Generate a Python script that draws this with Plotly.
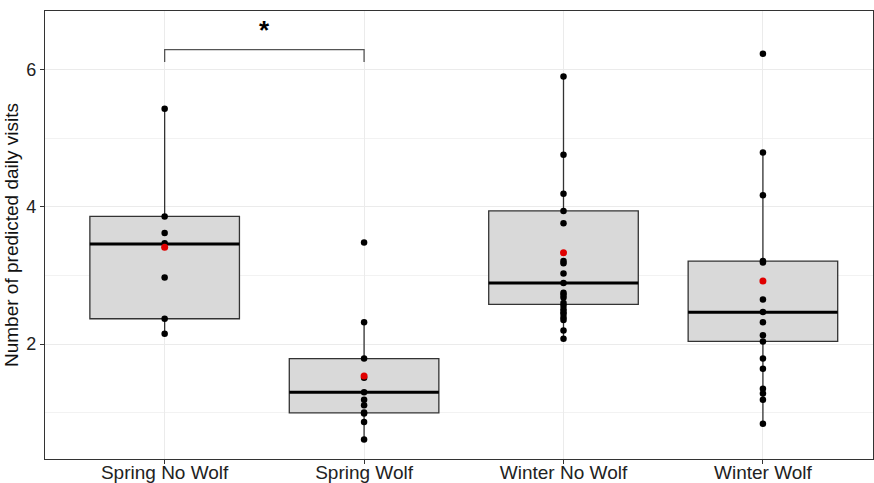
import plotly.graph_objects as go

categories = ["Spring No Wolf", "Spring Wolf", "Winter No Wolf", "Winter Wolf"]
positions = [1, 2, 3, 4]

spring_no_wolf = [5.43, 3.86, 3.62, 3.47, 2.97, 2.37, 2.15]
spring_wolf = [3.48, 2.32, 1.79, 1.51, 1.30, 1.19, 1.11, 1.005, 0.99, 0.865, 0.61]
winter_no_wolf = [5.90, 4.76, 4.19, 3.94, 3.76, 3.21, 3.18, 3.03, 2.89, 2.75, 2.72,
                  2.68, 2.60, 2.56, 2.51, 2.47, 2.44, 2.39, 2.35, 2.20, 2.08]
winter_wolf = [6.23, 4.79, 4.17, 3.21, 3.19, 2.65, 2.47, 2.32, 2.13, 2.04, 1.79,
               1.64, 1.35, 1.28, 1.19, 0.84]

q1 = [2.37, 1.00, 2.58, 2.04]
medians = [3.46, 1.30, 2.89, 2.465]
q3 = [3.86, 1.79, 3.94, 3.21]
lower_fence = [2.15, 0.61, 2.08, 0.84]
upper_fence = [5.43, 2.32, 5.90, 4.79]
means = [3.41, 1.535, 3.33, 2.92]

y_ticks = [2, 4, 6]
minor_ticks = [1, 3, 5]
signif_pair = [1, 2]
signif_label = "*"
bracket_y = 6.29
bracket_drop = 0.18

box_width = 0.75
groups = [spring_no_wolf, spring_wolf, winter_no_wolf, winter_wolf]

fig = go.Figure()

fig.add_trace(go.Box(
    x=positions, q1=q1, median=medians, q3=q3,
    lowerfence=lower_fence, upperfence=upper_fence,
    width=box_width, whiskerwidth=0, boxpoints=False,
    fillcolor="#D9D9D9", line=dict(color="#333333", width=1.3),
    showlegend=False, hoverinfo="skip",
))

# thick median lines
mx, my = [], []
for p, m in zip(positions, medians):
    mx += [p - box_width / 2, p + box_width / 2, None]
    my += [m, m, None]
fig.add_trace(go.Scatter(x=mx, y=my, mode="lines",
                         line=dict(color="black", width=3),
                         showlegend=False, hoverinfo="skip"))

# raw points
px, py = [], []
for p, vals in zip(positions, groups):
    px += [p] * len(vals)
    py += vals
fig.add_trace(go.Scatter(x=px, y=py, mode="markers",
                         marker=dict(color="black", size=6.5),
                         showlegend=False))

# means
fig.add_trace(go.Scatter(x=positions, y=means, mode="markers",
                         marker=dict(color="#E00000", size=7),
                         showlegend=False))

# significance bracket
a, b = signif_pair
fig.add_trace(go.Scatter(
    x=[a, a, b, b],
    y=[bracket_y - bracket_drop, bracket_y, bracket_y, bracket_y - bracket_drop],
    mode="lines", line=dict(color="#555555", width=1.3),
    showlegend=False, hoverinfo="skip"))
fig.add_annotation(x=(a + b) / 2, y=bracket_y, text="<b>" + signif_label + "</b>",
                   showarrow=False, yanchor="bottom", yshift=3,
                   font=dict(size=26, color="black", family="Liberation Sans, Arial"))

fig.update_layout(
    width=874, height=483,
    margin=dict(l=45, r=1, t=11, b=24, autoexpand=False),
    paper_bgcolor="white", plot_bgcolor="white",
    font=dict(family="Liberation Sans, Arial, sans-serif", color="#222222"),
)
fig.update_xaxes(
    automargin=False,
    range=[0.4, 4.552], tickmode="array", tickvals=positions, ticktext=categories,
    showgrid=True, gridcolor="#EBEBEB", gridwidth=1,
    showline=True, linecolor="#333333", linewidth=1.2, mirror=True,
    ticks="outside", ticklen=4, tickcolor="#333333", ticklabelstandoff=-8,
    tickfont=dict(size=19, color="#222222"), zeroline=False,
)
fig.update_yaxes(
    automargin=False,
    range=[0.327, 6.853], tickmode="array", tickvals=y_ticks,
    showgrid=True, gridcolor="#EBEBEB", gridwidth=1,
    minor=dict(tickmode="array", tickvals=minor_ticks, showgrid=True,
               gridcolor="#F2F2F2", gridwidth=1, ticks=""),
    showline=True, linecolor="#333333", linewidth=1.2, mirror=True,
    ticks="outside", ticklen=4, tickcolor="#333333",
    tickfont=dict(size=18, color="#222222"), zeroline=False,
    title=dict(text="Number of predicted daily visits", font=dict(size=19, color="#111111"),
               standoff=2),
)

fig.write_html("out.html", config={"displayModeBar": False},
               post_script="document.body.style.margin='0';document.body.style.overflow='hidden';")
